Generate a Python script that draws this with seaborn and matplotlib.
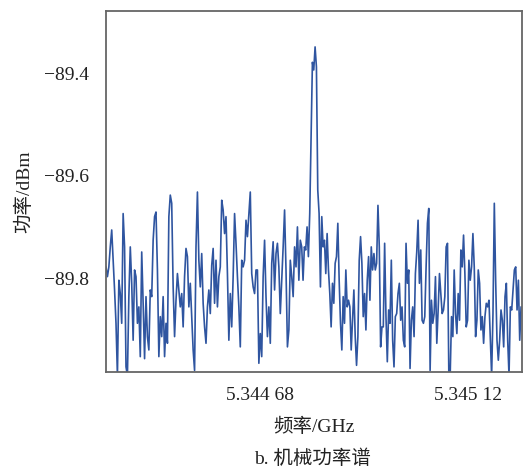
import numpy as np
import pandas as pd
import matplotlib
matplotlib.use("Agg")
import matplotlib.pyplot as plt
from matplotlib.ticker import FuncFormatter
import seaborn as sns

# ----------------------------
# DATA (dBm)
# ----------------------------

# noise floor left of the resonance
noise_left = [
    -89.778, -89.797, -89.778, -89.739, -89.706, -89.765, -89.823, -89.888, -89.990, -89.804,
    -89.830, -89.888, -89.674, -89.739, -89.973, -89.990, -89.836, -89.739, -89.810, -89.921,
    -89.784, -89.797, -89.888, -89.856, -89.953, -89.749, -89.849, -89.957, -89.836, -89.914,
    -89.940, -89.823, -89.836, -89.726, -89.680, -89.671, -89.784, -89.953, -89.875, -89.914,
    -89.836, -89.953, -89.888, -89.927, -89.680, -89.638, -89.654, -89.817, -89.914, -89.843,
    -89.791, -89.823, -89.856, -89.830, -89.895, -89.797, -89.742, -89.758, -89.856, -89.810,
    -89.875, -89.940, -89.980, -89.739, -89.632, -89.765, -89.817, -89.752, -89.849, -89.895,
    -89.927, -89.856, -89.823, -89.869, -89.775, -89.742, -89.849, -89.765, -89.856, -89.797,
    -89.778, -89.648, -89.667, -89.713, -89.680, -89.791, -89.921, -89.830, -89.895, -89.797,
    -89.674, -89.732, -89.797, -89.856, -89.934, -89.765, -89.778, -89.765, -89.687, -89.719,
    -89.674, -89.632, -89.791, -89.817, -89.830, -89.784, -89.784, -89.966, -89.908, -89.953,
    -89.797, -89.726, -89.836, -89.914, -89.856, -89.927, -89.771, -89.729, -89.823, -89.752,
    -89.732, -89.778, -89.869, -89.804, -89.739, -89.667, -89.784, -89.934, -89.901, -89.765,
    -89.797, -89.836, -89.739, -89.778, -89.700, -89.804, -89.726,
]

# just before the peak
pre_peak = [-89.739, -89.804, -89.739, -89.745, -89.700, -89.758, -89.674]

# mechanical resonance peak
peak = [-89.525, -89.379, -89.394, -89.349, -89.388, -89.628]

# noise floor right of the resonance
noise_right = [
    -89.674, -89.817, -89.680, -89.739, -89.726, -89.791, -89.713, -89.784, -89.830, -89.895,
    -89.810, -89.849, -89.771, -89.758, -89.693, -89.804, -89.888, -89.940, -89.836, -89.888,
    -89.784, -89.856, -89.843, -89.856, -89.940, -89.882, -89.823, -89.914, -89.970, -89.914,
    -89.765, -89.719, -89.771, -89.875, -89.830, -89.901, -89.804, -89.758, -89.843, -89.739,
    -89.784, -89.752, -89.784, -89.771, -89.658, -89.739, -89.934, -89.895, -89.895, -89.732,
    -89.875, -89.963, -89.862, -89.888, -89.765, -89.921, -89.973, -89.875, -89.869, -89.830,
    -89.810, -89.882, -89.856, -89.921, -89.934, -89.732, -89.810, -89.784, -89.976, -89.882,
    -89.856, -89.914, -89.791, -89.749, -89.687, -89.810, -89.745, -89.882, -89.888, -89.875,
    -89.778, -89.693, -89.664, -89.980, -89.843, -89.888, -89.869, -89.797, -89.927, -89.862,
    -89.791, -89.830, -89.869, -89.862, -89.836, -89.739, -89.732, -89.990, -89.990, -89.875,
    -89.914, -89.784, -89.869, -89.908, -89.830, -89.882, -89.745, -89.778, -89.716, -89.791,
    -89.895, -89.882, -89.765, -89.804, -89.778, -89.713, -89.778, -89.914, -89.882, -89.784,
    -89.810, -89.901, -89.875, -89.927, -89.875, -89.849, -89.856, -89.843, -89.914, -89.990,
    -89.869, -89.654, -89.804, -89.921, -89.960, -89.921, -89.862, -89.882, -89.934, -89.836,
    -89.810, -89.921, -89.990, -89.856, -89.862, -89.823, -89.784, -89.778, -89.862, -89.804,
    -89.921, -89.856,
]

# frequency span of the two sweeps (GHz)
f_left = (5.344354, 5.344765)
f_right = (5.344768, 5.345232)

x_ticks = [5.34468, 5.34512]
y_ticks = [-89.4, -89.6, -89.8]
x_lim = (5.344354, 5.345234)
y_lim = (-89.983, -89.279)

line_color = "#2f55a0"

# ----------------------------
# BUILD TABLE
# ----------------------------

right_vals = pre_peak + peak + noise_right
freq = np.concatenate([
    np.linspace(f_left[0], f_left[1], len(noise_left)),
    np.linspace(f_right[0], f_right[1], len(right_vals)),
])
df = pd.DataFrame({"freq": freq, "power": noise_left + right_vals})

# ----------------------------
# PLOT
# ----------------------------

sns.set_theme(style="white")
plt.rcParams["font.family"] = ["Liberation Serif", "Noto Sans CJK SC"]
plt.rcParams["axes.unicode_minus"] = True

fig = plt.figure(figsize=(5.25, 4.68), dpi=100)
ax = fig.add_axes([0.2019, 0.2051, 0.7924, 0.7714])

sns.lineplot(data=df, x="freq", y="power", ax=ax, color=line_color,
             linewidth=1.2, sort=False, estimator=None)

ax.set_xlim(*x_lim)
ax.set_ylim(*y_lim)
ax.set_xticks(x_ticks)
ax.set_yticks(y_ticks)


def fmt_freq(v, pos):
    s = f"{v:.5f}"
    return s[:5] + " " + s[5:]


ax.xaxis.set_major_formatter(FuncFormatter(fmt_freq))
ax.yaxis.set_major_formatter(FuncFormatter(lambda v, pos: f"\u2212{abs(v):.1f}"))

for side in ["left", "right", "top", "bottom"]:
    ax.spines[side].set_visible(True)
    ax.spines[side].set_color("#666666")
    ax.spines[side].set_linewidth(1.3)

ax.tick_params(axis="both", direction="in", length=5, width=1.2, color="#444444",
               labelsize=14, labelcolor="#222222", pad=12)
ax.tick_params(axis="x", pad=11)

ax.set_xlabel("频率/GHz", fontsize=14, color="#222222", labelpad=10)
ax.set_ylabel("功率/dBm", fontsize=14, color="#222222", labelpad=8)

fig.text(0.596, 0.0, "b. 机械功率谱", ha="center", va="bottom",
         fontsize=14, color="#222222")

fig.savefig("out.png", dpi=100)
